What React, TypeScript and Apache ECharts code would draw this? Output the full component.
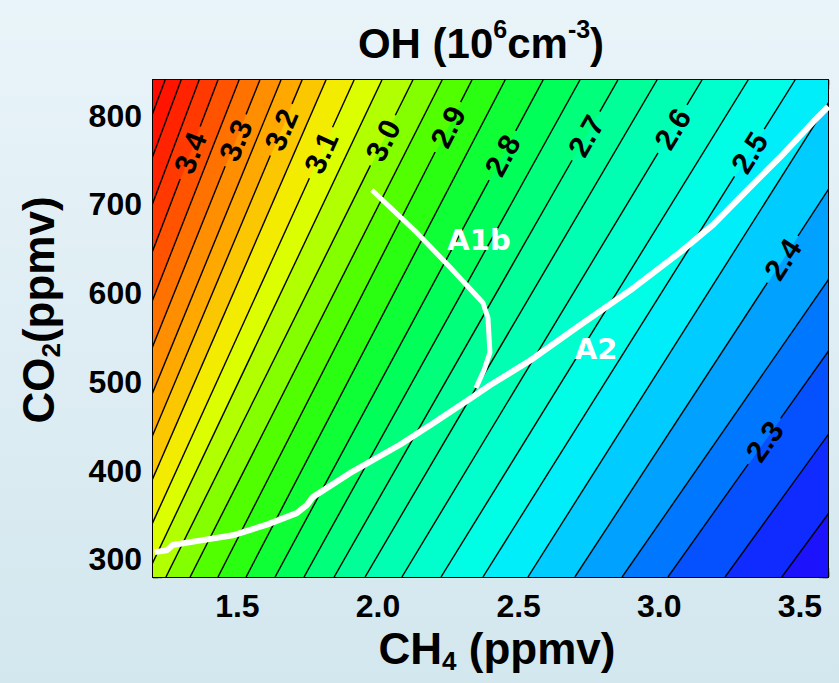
import React, { useEffect, useRef } from "react";
import * as echarts from "echarts";

// OH contour levels (10^6 cm^-3), contour interval 0.05
const ohLevels = [
  2.15, 2.2, 2.25, 2.3, 2.35, 2.4, 2.45, 2.5, 2.55, 2.6, 2.65, 2.7, 2.75, 2.8, 2.85,
  2.9, 2.95, 3.0, 3.05, 3.1, 3.15, 3.2, 3.25, 3.3, 3.35, 3.4, 3.45, 3.5, 3.55, 3.6,
];
// CO2 (ppmv) rows at which each contour's CH4 position was read
const contourCO2Low = 280;
const contourCO2High = 840;
// CH4 (ppmv) where each contour crosses CO2 = 280 (extended beyond the frame where it leaves it)
const ch4AtLowCO2 = [
  3.643, 3.436, 3.234, 3.031, 2.868, 2.7, 2.533, 2.373, 2.224, 2.085, 1.954, 1.844, 1.737, 1.634, 1.531,
  1.431, 1.332, 1.246, 1.175, 1.111, 1.047, 0.987, 0.93, 0.869, 0.812, 0.756, 0.699, 0.642, 0.585, 0.528,
];
// CH4 (ppmv) where each contour crosses CO2 = 840
const ch4AtHighCO2 = [
  4.958, 4.734, 4.514, 4.286, 4.094, 3.856, 3.653, 3.483, 3.316, 3.152, 2.992, 2.853, 2.718, 2.587, 2.452,
  2.334, 2.228, 2.124, 2.014, 1.915, 1.815, 1.73, 1.655, 1.58, 1.506, 1.431, 1.364, 1.3, 1.243, 1.189,
];
// labelled contours and the CO2 level where their label sits
const labelLevels = [3.4, 3.3, 3.2, 3.1, 3.0, 2.9, 2.8, 2.7, 2.6, 2.5, 2.4, 2.3];
const labelCO2 = [758, 772, 784, 758, 772, 787, 755, 777, 785, 758, 638, 433];

// scenario trajectories [CH4, CO2]
const a2Path = [
  [1.206, 308], [1.249, 310], [1.27, 316], [1.366, 321], [1.484, 327], [1.605, 339], [1.711, 352],
  [1.747, 361], [1.768, 370], [1.9, 397], [2.078, 429], [2.195, 453], [2.338, 483], [2.398, 496],
  [2.541, 524], [2.719, 564], [2.897, 603], [3.075, 646], [3.192, 677], [3.313, 716], [3.43, 753],
  [3.548, 793], [3.601, 810],
];
const a1bPath = [
  [1.978, 716], [2.138, 668], [2.256, 629], [2.373, 589], [2.391, 572], [2.398, 533], [2.377, 513], [2.348, 493],
];

// axis extents
const ch4Range = [1.2, 3.6];
const co2Range = [280, 840];

// colour map (style)
const cmapStops = [2.1, 2.2, 2.3, 2.4, 2.45, 2.5, 2.55, 2.6, 2.7, 2.8, 2.9, 3.0, 3.1, 3.2, 3.3, 3.4, 3.5, 3.65];
const cmapColors = [
  "#3300ee", "#1418ff", "#0062ff", "#00b6ff", "#00e2ff", "#00faf4", "#00ffd8", "#00ffc0", "#00ff8c",
  "#00ff48", "#38ff00", "#9cff00", "#f0ff00", "#ffb400", "#ff8200", "#ff4400", "#ff1800", "#ff0000",
];

const FONT = '"Liberation Sans", Arial, Helvetica, sans-serif';

function hexToRgb(h: string) {
  return [parseInt(h.slice(1, 3), 16), parseInt(h.slice(3, 5), 16), parseInt(h.slice(5, 7), 16)];
}
function cmap(v: number) {
  if (v <= cmapStops[0]) return cmapColors[0];
  if (v >= cmapStops[cmapStops.length - 1]) return cmapColors[cmapColors.length - 1];
  for (let k = 0; k < cmapStops.length - 1; k++) {
    if (v >= cmapStops[k] && v <= cmapStops[k + 1]) {
      const t = (v - cmapStops[k]) / (cmapStops[k + 1] - cmapStops[k]);
      const a = hexToRgb(cmapColors[k]);
      const b = hexToRgb(cmapColors[k + 1]);
      const c = a.map((x, j) => Math.round(x + (b[j] - x) * t));
      return `rgb(${c[0]},${c[1]},${c[2]})`;
    }
  }
  return cmapColors[0];
}

export default function App() {
  const ref = useRef<HTMLDivElement>(null);
  useEffect(() => {
    if (!ref.current) return;
    const chart = echarts.init(ref.current, undefined, { renderer: "svg" });
    const N = ohLevels.length;
    const FAR_LEFT = -10;
    const FAR_RIGHT = 20;

    const bandItem = (params: any, api: any) => {
      const i = api.value(0) as number;
      const rb = i === 0 ? [FAR_RIGHT, FAR_RIGHT] : [ch4AtLowCO2[i - 1], ch4AtHighCO2[i - 1]];
      const lb = i === N ? [FAR_LEFT, FAR_LEFT] : [ch4AtLowCO2[i], ch4AtHighCO2[i]];
      const pts = [
        api.coord([lb[0], contourCO2Low]),
        api.coord([rb[0], contourCO2Low]),
        api.coord([rb[1], contourCO2High]),
        api.coord([lb[1], contourCO2High]),
      ];
      const v =
        i === 0 ? ohLevels[0] - 0.025 : i === N ? ohLevels[N - 1] + 0.025 : (ohLevels[i - 1] + ohLevels[i]) / 2;
      const c = cmap(v);
      return { type: "polygon", shape: { points: pts }, style: { fill: c, stroke: c, lineWidth: 0.8 } };
    };

    const lineItem = (params: any, api: any) => {
      const i = api.value(0) as number;
      const p1 = api.coord([ch4AtLowCO2[i], contourCO2Low]);
      const p2 = api.coord([ch4AtHighCO2[i], contourCO2High]);
      const style = { stroke: "#000", lineWidth: 1.4, fill: null };
      const li = labelLevels.findIndex((l) => Math.abs(l - ohLevels[i]) < 1e-6);
      if (li < 0) {
        return { type: "line", shape: { x1: p1[0], y1: p1[1], x2: p2[0], y2: p2[1] }, style };
      }
      const f = (labelCO2[li] - contourCO2Low) / (contourCO2High - contourCO2Low);
      const dx = p2[0] - p1[0];
      const dy = p2[1] - p1[1];
      const len = Math.hypot(dx, dy);
      const ux = dx / len;
      const uy = dy / len;
      const lx = p1[0] + f * dx;
      const ly = p1[1] + f * dy;
      const g = 28;
      const ang = Math.atan2(-dy, dx);
      return {
        type: "group",
        children: [
          { type: "line", shape: { x1: p1[0], y1: p1[1], x2: lx - g * ux, y2: ly - g * uy }, style },
          { type: "line", shape: { x1: lx + g * ux, y1: ly + g * uy, x2: p2[0], y2: p2[1] }, style },
          {
            type: "text",
            x: lx,
            y: ly,
            rotation: ang,
            style: {
              text: labelLevels[li].toFixed(1),
              x: 0,
              y: 0,
              align: "center",
              verticalAlign: "middle",
              fill: "#000",
              fontSize: 30,
              fontWeight: "bold",
              fontFamily: FONT,
            },
          },
        ],
      };
    };

    const tickLine = { color: "#000", width: 1.3 };
    const frameLine = { show: true, onZero: false, lineStyle: { color: "#000", width: 2 } };
    const axisFont = { fontFamily: FONT, fontWeight: "bold" as const, fontSize: 32, color: "#000" };

    const xMajor = (pos: string, labels: boolean) => ({
      type: "value",
      position: pos,
      min: ch4Range[0],
      max: ch4Range[1],
      splitNumber: 5,
      axisLine: frameLine,
      axisTick: { show: true, inside: true, length: 9, lineStyle: tickLine },
      axisLabel: labels
        ? {
            show: true,
            ...axisFont,
            margin: 13,
            lineHeight: 32,
            formatter: (v: number) => (Math.abs(v * 2 - Math.round(v * 2)) < 1e-6 ? v.toFixed(1) : ""),
          }
        : { show: false },
      splitLine: { show: false },
    });
    const xMinor = (pos: string) => ({
      type: "value",
      position: pos,
      min: ch4Range[0],
      max: ch4Range[1],
      interval: 0.1,
      axisLine: { show: false },
      axisTick: { show: true, inside: true, length: 5, lineStyle: tickLine },
      axisLabel: { show: false },
      splitLine: { show: false },
    });
    const yMajor = (pos: string, labels: boolean) => ({
      type: "value",
      position: pos,
      min: co2Range[0],
      max: co2Range[1],
      splitNumber: 5,
      axisLine: frameLine,
      axisTick: { show: true, inside: true, length: 9, lineStyle: tickLine },
      axisLabel: labels
        ? {
            show: true,
            ...axisFont,
            margin: 11,
            formatter: (v: number) => (v % 100 === 0 ? String(v) : ""),
          }
        : { show: false },
      splitLine: { show: false },
    });
    const yMinor = (pos: string) => ({
      type: "value",
      position: pos,
      min: co2Range[0],
      max: co2Range[1],
      interval: 10,
      axisLine: { show: false },
      axisTick: { show: true, inside: true, length: 5, lineStyle: tickLine },
      axisLabel: { show: false },
      splitLine: { show: false },
    });

    const bandData = [];
    for (let i = 0; i <= N; i++) bandData.push([i]);
    const lineData = ohLevels.map((_, i) => [i]);

    const mainTitle = { fontFamily: FONT, fontWeight: "bold", fontSize: 44, fill: "#000", lineHeight: 42 };
    const subTitle = { fontFamily: FONT, fontWeight: "bold", fontSize: 26, fill: "#000", lineHeight: 26, padding: [26, 0, 0, 0] };

    chart.setOption({
      animation: false,
      backgroundColor: "transparent",
      grid: { left: 153, top: 80, right: 11, bottom: 106, containLabel: false },
      xAxis: [xMajor("bottom", true), xMinor("bottom"), xMajor("top", false), xMinor("top")],
      yAxis: [yMajor("left", true), yMinor("left"), yMajor("right", false), yMinor("right")],
      series: [
        {
          type: "custom",
          name: "OH fill",
          xAxisIndex: 0,
          yAxisIndex: 0,
          clip: true,
          renderItem: bandItem,
          data: bandData,
          z: 1,
          silent: true,
        },
        {
          type: "custom",
          name: "OH contours",
          xAxisIndex: 0,
          yAxisIndex: 0,
          clip: true,
          renderItem: lineItem,
          data: lineData,
          z: 2,
          silent: true,
        },
        {
          type: "line",
          name: "A2",
          xAxisIndex: 0,
          yAxisIndex: 0,
          data: a2Path,
          showSymbol: false,
          symbol: "none",
          lineStyle: { color: "#ffffff", width: 6 },
          z: 3,
          clip: true,
        },
        {
          type: "line",
          name: "A1b",
          xAxisIndex: 0,
          yAxisIndex: 0,
          data: a1bPath,
          showSymbol: false,
          symbol: "none",
          lineStyle: { color: "#ffffff", width: 5 },
          z: 3,
          clip: true,
        },
      ],
      graphic: [
        {
          type: "text",
          x: 481,
          y: 40,
          style: {
            text: "{m|OH (10}{sup|6}{m|cm}{sup|-3}{m|)}",
            align: "center",
            verticalAlign: "middle",
            rich: {
              m: { fontFamily: FONT, fontWeight: "bold", fontSize: 42, fill: "#000", lineHeight: 48, verticalAlign: "bottom" },
              sup: { fontFamily: FONT, fontWeight: "bold", fontSize: 25, fill: "#000", lineHeight: 48, verticalAlign: "top", padding: [0, 0, 22, 0] },
            },
          },
        },
        {
          type: "text",
          x: 497,
          y: 648,
          style: {
            text: "{m|CH}{sub|4}{m| (ppmv)}",
            align: "center",
            verticalAlign: "middle",
            rich: { m: mainTitle, sub: subTitle },
          },
        },
        {
          type: "text",
          x: 38,
          y: 310,
          rotation: Math.PI / 2,
          style: {
            text: "{m|CO}{sub|2}{m|(ppmv)}",
            align: "center",
            verticalAlign: "middle",
            rich: { m: mainTitle, sub: subTitle },
          },
        },
        {
          type: "text",
          x: 479,
          y: 240,
          z: 10,
          style: {
            text: "A1b",
            align: "center",
            verticalAlign: "middle",
            fill: "#ffffff",
            fontFamily: '"DejaVu Sans", Verdana, sans-serif',
            fontWeight: "bold",
            fontSize: 29,
          },
        },
        {
          type: "text",
          x: 596,
          y: 349,
          z: 10,
          style: {
            text: "A2",
            align: "center",
            verticalAlign: "middle",
            fill: "#ffffff",
            fontFamily: '"DejaVu Sans", Verdana, sans-serif',
            fontWeight: "bold",
            fontSize: 29,
          },
        },
      ],
    });
    return () => chart.dispose();
  }, []);
  return (
    <div
      ref={ref}
      style={{
        position: "absolute",
        left: 0,
        top: 0,
        width: 839,
        height: 683,
        background: "linear-gradient(to bottom, #e9f4f9, #d3e7ee)",
      }}
    />
  );
}
